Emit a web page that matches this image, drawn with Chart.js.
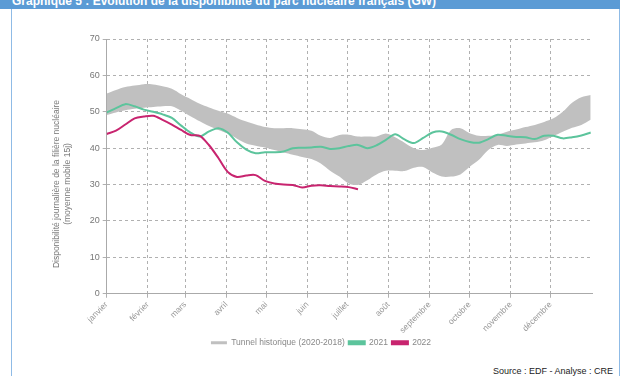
<!DOCTYPE html>
<html>
<head>
<meta charset="utf-8">
<script src="https://cdn.jsdelivr.net/npm/chart.js@4/dist/chart.umd.min.js"></script>
<style>
  body { margin: 0; background: #fff; width: 627px; height: 376px; overflow: hidden; position: relative; font-family: "Liberation Sans", Arial, sans-serif; }
  #head { position: absolute; left: 0; top: 0; width: 620px; height: 9px; background: #5b9bd5; overflow: hidden; }
  #head span { position: absolute; left: 12px; top: -6px; color: #fff; font-weight: bold; font-size: 12px; white-space: nowrap; }
  #frame { position: absolute; left: 11px; top: 9px; width: 607px; height: 380px; border-left: 1px solid #8fbbe6; border-right: 1px solid #8fbbe6; }
  #chart { position: absolute; left: 0; top: 0; }
  #ytitle { position: absolute; left: 62px; top: 184px; width: 260px; transform: translate(-50%, -50%) rotate(-90deg); text-align: center; font-size: 8.5px; line-height: 11px; color: #777; }
  #source { position: absolute; right: 14px; top: 366px; font-size: 9px; color: #222; }
</style>
</head>
<body>
<div id="head"><span>Graphique 5 : Évolution de la disponibilité du parc nucléaire français (GW)</span></div>
<div id="frame"></div>
<canvas id="chart" width="627" height="361"></canvas>
<div id="ytitle">Disponibilité journalière de la filière nucléaire<br>(moyenne mobile 15j)</div>
<div id="source">Source : EDF - Analyse : CRE</div>
<script>
"use strict";

const monthNames = ['janvier', 'février', 'mars', 'avril', 'mai', 'juin', 'juillet', 'août', 'septembre', 'octobre', 'novembre', 'décembre'];
const monthStarts = [0, 31, 59, 90, 120, 151, 181, 212, 243, 273, 304, 334];

const days = [0, 7, 14, 21, 28, 35, 42, 49, 56, 63, 70, 77, 84, 91, 98, 105, 112, 119, 126, 133,
  140, 147, 154, 161, 168, 175, 182, 189, 196, 203, 210, 217, 224, 231, 238, 245, 252, 259, 266,
  273, 280, 287, 294, 301, 308, 315, 322, 329, 336, 343, 350, 357, 364];

const tunnelHigh = [55, 56, 56.8, 57.2, 57.6, 57.5, 57, 56.3, 54.8, 53.5, 52.2, 51.2, 50.3, 49.5, 48.3, 47.3, 46.5, 45.8, 45.5, 45.5,
  45.5, 45.2, 44.8, 43.4, 42.8, 43.6, 43.7, 43.2, 43.2, 43.2, 44, 43, 41.5, 40, 39.5, 40.1, 41, 45, 45.5,
  44.1, 43.4, 43.4, 43.7, 44.5, 45.1, 45.8, 46.4, 47.2, 48.2, 50, 52.5, 54, 54.6];

const tunnelLow = [49.1, 49.8, 50.4, 50.8, 51.1, 51.3, 51.5, 51.5, 50.3, 48.8, 47.4, 46.1, 45, 44, 42.6, 41.3, 40.7, 40.2, 39.5, 38.8,
  38.2, 37.6, 37, 35.8, 33.8, 32.2, 30.3, 29.9, 31.2, 32.8, 33.8, 33.8, 33.7, 34.6, 34.8, 33.3, 32.2, 32.2, 32.8,
  34.9, 36.8, 39.5, 40.9, 40.6, 41, 41.3, 41.6, 42.2, 43.3, 44.5, 45.6, 46.4, 47.8];

const avail2021 = [49.8, 51, 52.1, 51.5, 50.6, 50, 49.3, 48.3, 46.2, 44.3, 43.2, 44.6, 45.5, 44.3, 41.6, 39.6, 38.6, 38.9, 38.9, 39.1,
  40, 40.1, 40.2, 40.4, 39.8, 40, 40.6, 40.9, 40, 40.8, 42.3, 43.8, 42.4, 41.4, 42.8, 44.3, 44.6, 43.7, 42.5,
  41.7, 41.5, 42.5, 43.7, 43.4, 43.1, 43, 42.5, 43.4, 43.4, 42.7, 43, 43.5, 44.3];

const days2022 = [0, 7, 14, 21, 28, 35, 42, 49, 56, 63, 70, 77, 84, 91, 98, 105, 112, 119, 126, 133,
  140, 147, 154, 161, 168, 175, 182, 189];
const avail2022 = [43.9, 44.8, 46.5, 48.2, 48.7, 48.9, 47.8, 46.5, 45, 43.6, 43.4, 40.8, 37.3, 33.5, 32.1, 32.5, 32.6, 31, 30.3, 30,
  29.9, 29.2, 29.7, 29.8, 29.6, 29.5, 29.3, 28.7];

const yTicks = [0, 10, 20, 30, 40, 50, 60, 70];

const points = (xs, ys) => xs.map((x, i) => ({ x: x, y: ys[i] }));

const grey = '#c0c0c0';
const green = '#5cc49c';
const magenta = '#c8246f';
const gridColor = '#b0b0b0';

new Chart(document.getElementById('chart'), {
  type: 'line',
  data: {
    datasets: [
      {
        label: 'Tunnel historique (2020-2018)',
        data: points(days, tunnelHigh),
        borderWidth: 0,
        borderColor: grey,
        backgroundColor: grey,
        fill: '+1',
        pointRadius: 0,
        tension: 0.3,
        order: 3,
      },
      {
        label: 'tunnel-bas',
        data: points(days, tunnelLow),
        borderWidth: 0,
        borderColor: grey,
        backgroundColor: grey,
        fill: false,
        pointRadius: 0,
        tension: 0.3,
        order: 3,
      },
      {
        label: '2021',
        data: points(days, avail2021),
        borderColor: green,
        backgroundColor: green,
        borderWidth: 2,
        pointRadius: 0,
        tension: 0.3,
        order: 2,
      },
      {
        label: '2022',
        data: points(days2022, avail2022),
        borderColor: magenta,
        backgroundColor: magenta,
        borderWidth: 2,
        pointRadius: 0,
        tension: 0.3,
        order: 1,
      },
    ],
  },
  options: {
    responsive: false,
    animation: false,
    layout: { padding: { left: 50, right: 35, top: 39, bottom: 4 } },
    plugins: {
      tooltip: { enabled: false },
      legend: {
        position: 'bottom',
        labels: {
          filter: item => item.text !== 'tunnel-bas',
          sort: (a, b) => a.datasetIndex - b.datasetIndex,
          boxWidth: 16,
          boxHeight: 3,
          padding: 4,
          color: '#888',
          font: { family: 'Liberation Sans', size: 8.5 },
        },
      },
    },
    scales: {
      x: {
        type: 'linear',
        min: 0,
        max: 365,
        afterBuildTicks: scale => { scale.ticks = monthStarts.map(v => ({ value: v })); },
        afterFit: scale => { scale.height = 40.75; },
        ticks: {
          callback: (value, index) => monthNames[index],
          autoSkip: false,
          maxRotation: 45,
          minRotation: 45,
          padding: 2,
          color: '#999',
          font: { family: 'Liberation Sans', size: 8.5 },
        },
        grid: { color: gridColor, tickLength: 4 },
        border: { color: '#aaa', dash: [3, 3] },
      },
      y: {
        min: 0,
        max: 70,
        afterBuildTicks: scale => { scale.ticks = yTicks.map(v => ({ value: v })); },
        afterFit: scale => { scale.width = 56.7; },
        ticks: {
          padding: 3,
          color: '#777',
          font: { family: 'Liberation Sans', size: 9 },
        },
        grid: { color: gridColor, tickLength: 4 },
        border: { color: '#aaa', dash: [3, 3] },
      },
    },
  },
});
</script>
</body>
</html>
